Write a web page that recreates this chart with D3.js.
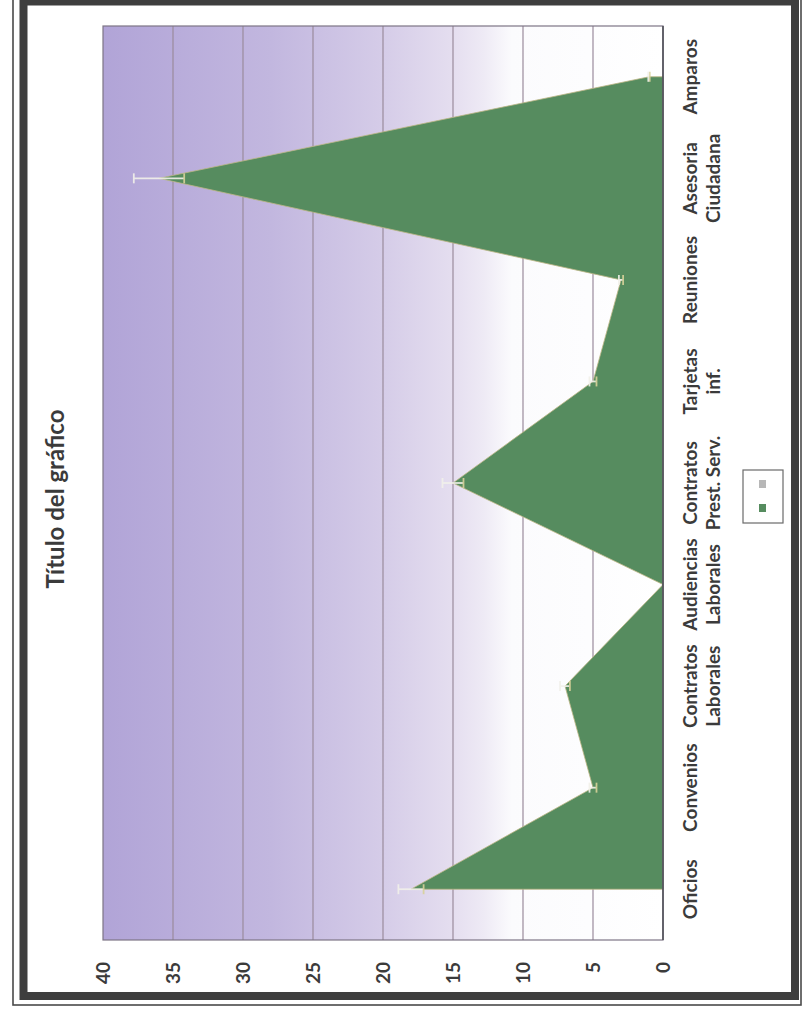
<!DOCTYPE html>
<html><head><meta charset="utf-8">
<script src="https://cdn.jsdelivr.net/npm/d3@7"></script>
<style>body{margin:0;background:#fff}svg{display:block}</style>
</head><body>
<svg id="c" width="802" height="1012"></svg>
<script>
// ---- data ----
const categories = ["Oficios", "Convenios", "Contratos\nLaborales", "Audiencias\nLaborales", "Contratos\nPrest. Serv.", "Tarjetas\ninf.", "Reuniones", "Asesoria\nCiudadana", "Amparos"];
const values = [18, 5, 7, 0, 15, 5, 3, 36, 1];
const serie2 = [0, 0, 0, 0, 0, 0, 0, 0, 0];
const errorPercent = 5;
const valueTicks = [0, 5, 10, 15, 20, 25, 30, 35, 40];
const chartTitle = "Título del gráfico";

// ---- drawing ----
const svg = d3.select("#c");
const font = "Lato, 'Open Sans', sans-serif";
const textColor = "#3b3b3b";

// page frames (screen coordinates)
svg.append("rect").attr("x", 13).attr("y", -5).attr("width", 788).attr("height", 1010)
  .attr("fill", "none").attr("stroke", "#4a4a4a").attr("stroke-width", 1.6);
svg.append("rect").attr("x", 23.5).attr("y", 1.5).attr("width", 771.5).attr("height", 994.5)
  .attr("fill", "none").attr("stroke", "#3e3e3e").attr("stroke-width", 8);

// chart drawn in its own orientation, then turned a quarter to the left
const W = 1012, H = 802;
const g = svg.append("g").attr("transform", `translate(0,${W}) rotate(-90)`);

const plot = {left: 72, right: 986, top: 103, bottom: 663};
const x = d3.scaleBand().domain(categories).range([plot.left, plot.right]);
const y = d3.scaleLinear().domain([0, 40]).range([plot.bottom, plot.top]);
const cx = c => x(c) + x.bandwidth() / 2;

const defs = svg.append("defs");
const grad = defs.append("linearGradient").attr("id", "bg")
  .attr("x1", 0).attr("y1", 0).attr("x2", 0).attr("y2", 1);
[[0, "#b1a4d7"], [0.3, "#c2b7df"], [0.5, "#d5cce8"], [0.62, "#e4ddef"], [0.68, "#eeeaf5"], [0.73, "#fbfbfd"], [1, "#ffffff"]]
  .forEach(([o, c]) => grad.append("stop").attr("offset", o).attr("stop-color", c));

g.append("rect").attr("x", plot.left).attr("y", plot.top)
  .attr("width", plot.right - plot.left).attr("height", plot.bottom - plot.top)
  .attr("fill", "url(#bg)");

// gridlines
g.append("g").selectAll("line").data(valueTicks.filter(t => t > 0 && t < 40)).join("line")
  .attr("x1", plot.left).attr("x2", plot.right)
  .attr("y1", d => y(d)).attr("y2", d => y(d))
  .attr("stroke", "#9a8b9c").attr("stroke-width", 1.2);

// areas
const data = categories.map((c, i) => ({c, v: values[i], v2: serie2[i]}));
const area = d3.area().x(d => cx(d.c)).y0(y(0));
g.append("path").datum(data).attr("d", area.y1(d => y(d.v)))
  .attr("fill", "#568c5f").attr("stroke", "#bdb685").attr("stroke-width", 0.8);
g.append("path").datum(data).attr("d", d3.area().x(d => cx(d.c)).y0(y(0)).y1(d => y(d.v2)))
  .attr("fill", "#b7b7b7");

// error bars (percentage)
const eb = g.append("g").attr("stroke", "#f2f1ea").attr("stroke-width", 1.8).attr("opacity", 0.9);
data.filter(d => d.v > 0).forEach(d => {
  const lo = y(d.v * (1 - errorPercent / 100)), hi = y(d.v * (1 + errorPercent / 100));
  const X = cx(d.c);
  eb.append("line").attr("x1", X).attr("x2", X).attr("y1", lo).attr("y2", hi);
  eb.append("line").attr("x1", X - 5).attr("x2", X + 5).attr("y1", lo).attr("y2", lo).attr("stroke", "#d8d29a");
  eb.append("line").attr("x1", X - 5).attr("x2", X + 5).attr("y1", hi).attr("y2", hi);
});

// plot border + axis line
g.append("rect").attr("x", plot.left).attr("y", plot.top)
  .attr("width", plot.right - plot.left).attr("height", plot.bottom - plot.top)
  .attr("fill", "none").attr("stroke", "#7d7585").attr("stroke-width", 1.2);
g.append("line").attr("x1", plot.left).attr("x2", plot.right)
  .attr("y1", plot.bottom).attr("y2", plot.bottom).attr("stroke", "#505058").attr("stroke-width", 1.6);

// value axis labels
const yAxis = d3.axisLeft(y).tickValues(valueTicks).tickSize(0).tickPadding(22);
const ya = g.append("g").attr("transform", `translate(${plot.left},0)`).call(yAxis);
ya.select(".domain").remove();
ya.selectAll("text").attr("font-family", font).attr("font-weight", 700)
  .attr("font-size", 19).attr("fill", textColor);

// category labels
const xa = g.append("g");
categories.forEach(c => {
  const t = xa.append("text").attr("x", cx(c)).attr("y", 697)
    .attr("text-anchor", "middle").attr("font-family", font).attr("font-weight", 700)
    .attr("font-size", 19).attr("fill", textColor);
  c.split("\n").forEach((line, i) => {
    t.append("tspan").attr("x", cx(c)).attr("dy", i === 0 ? 0 : 23).text(line);
  });
});

// title
g.append("text").attr("x", 513).attr("y", 64).attr("text-anchor", "middle")
  .attr("font-family", font).attr("font-weight", 700).attr("font-size", 24)
  .attr("fill", textColor).text(chartTitle);

// legend (no labels)
const lg = g.append("g");
lg.append("rect").attr("x", 489).attr("y", 743).attr("width", 53).attr("height", 40)
  .attr("fill", "#fff").attr("stroke", "#6a6a6a").attr("stroke-width", 1.2);
[["#568c5f", 504], ["#b7b7b7", 528]].forEach(([col, X]) => {
  lg.append("rect").attr("x", X - 4).attr("y", 759).attr("width", 8).attr("height", 7).attr("fill", col);
});
</script>
</body></html>
